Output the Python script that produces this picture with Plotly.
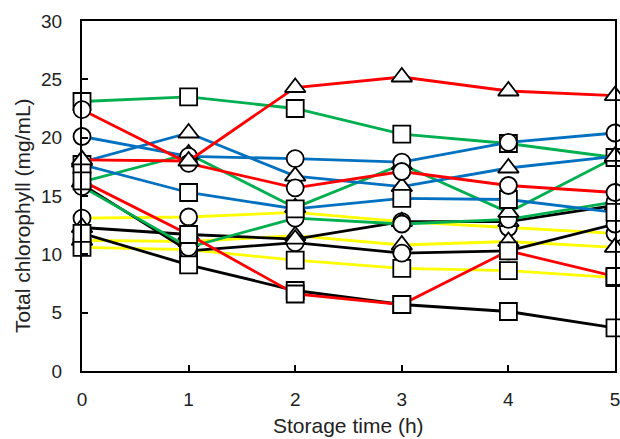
import plotly.graph_objects as go

times = [0, 1, 2, 3, 4, 5]

red_triangle = [18.1, 18.0, 24.3, 25.2, 24.0, 23.6]
red_circle = [22.4, 17.8, 15.7, 17.1, 15.9, 15.3]
red_square = [16.3, 11.7, 6.6, 5.7, 10.3, 8.1]
green_square = [23.1, 23.5, 22.5, 20.3, 19.5, 18.3]
green_triangle = [16.2, 18.6, 14.0, 17.7, 13.6, 18.3]
green_circle = [15.8, 10.6, 13.1, 12.6, 13.0, 14.5]
blue_circle = [20.1, 18.4, 18.2, 17.9, 19.6, 20.4]
blue_triangle = [17.9, 20.4, 16.7, 15.8, 17.4, 18.4]
blue_square = [17.7, 15.3, 13.9, 14.8, 14.7, 13.6]
yellow_circle = [13.1, 13.2, 13.6, 12.8, 12.3, 11.8]
yellow_triangle = [11.2, 11.1, 11.6, 10.8, 11.1, 10.6]
yellow_square = [10.6, 10.4, 9.5, 8.8, 8.6, 8.0]
black_circle = [16.0, 10.3, 11.0, 10.1, 10.3, 12.6]
black_triangle = [12.3, 11.7, 11.3, 12.8, 12.8, 14.2]
black_square = [11.8, 9.1, 6.9, 5.7, 5.1, 3.7]

series = [
    (yellow_circle, "#FFFF00", "circle"),
    (yellow_triangle, "#FFFF00", "triangle-up"),
    (yellow_square, "#FFFF00", "square"),
    (black_circle, "#000000", "circle"),
    (black_triangle, "#000000", "triangle-up"),
    (black_square, "#000000", "square"),
    (green_circle, "#00B050", "circle"),
    (green_triangle, "#00B050", "triangle-up"),
    (green_square, "#00B050", "square"),
    (blue_circle, "#0070C0", "circle"),
    (blue_triangle, "#0070C0", "triangle-up"),
    (blue_square, "#0070C0", "square"),
    (red_circle, "#FF0000", "circle"),
    (red_triangle, "#FF0000", "triangle-up"),
    (red_square, "#FF0000", "square"),
]

fig = go.Figure()
for vals, col, sym in series:
    fig.add_trace(go.Scatter(
        x=times, y=vals, mode="lines+markers",
        line=dict(color=col, width=2.8),
        marker=dict(symbol=sym, size=17 if sym != "triangle-up" else 18,
                    color="white", line=dict(color="black", width=1.8)),
        cliponaxis=False, showlegend=False,
    ))

font = "Liberation Sans, Arial, sans-serif"
fig.update_layout(
    width=620, height=439,
    margin=dict(l=82, r=5, t=21, b=68, autoexpand=False),
    paper_bgcolor="white", plot_bgcolor="white",
    font=dict(family=font, size=19, color="#222"),
    xaxis=dict(range=[0, 5], tickvals=times, ticks="inside", ticklen=6,
               tickwidth=1.5, tickcolor="black", showline=True, linecolor="black",
               linewidth=2, mirror=True, showgrid=False, zeroline=False,
               ticklabelstandoff=10, automargin=False, ticklabeloverflow="allow"),
    yaxis=dict(range=[0, 30], tickvals=[0, 5, 10, 15, 20, 25, 30], ticks="inside",
               ticklen=6, tickwidth=1.5, tickcolor="black", showline=True,
               linecolor="black", linewidth=2, mirror=True, showgrid=False,
               zeroline=False, ticklabelstandoff=14, automargin=False,
               ticklabeloverflow="allow"),
    annotations=[
        dict(text="Storage time (h)", x=0.5, xref="paper", y=-0.155, yref="paper",
             yanchor="middle", showarrow=False, font=dict(size=21)),
        dict(text="Total chlorophyll (mg/mL)", textangle=-90, x=-0.113, xref="paper",
             xanchor="center", y=0.445, yref="paper", showarrow=False,
             font=dict(size=21)),
    ],
)
fig.write_html("out.html", config={"displayModeBar": False},
               post_script="document.body.style.margin='0';document.body.style.overflow='hidden';")
